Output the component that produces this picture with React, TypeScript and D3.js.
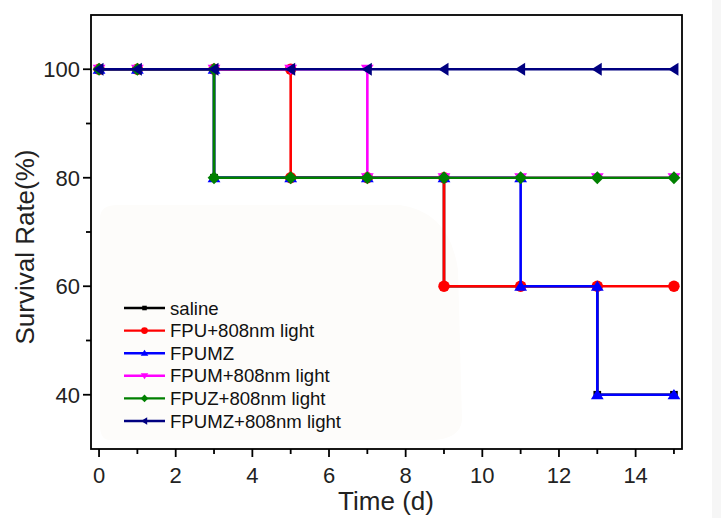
import React from "react";
import * as d3 from "d3";

const seriesNames = [
  "saline",
  "FPU+808nm light",
  "FPUMZ",
  "FPUM+808nm light",
  "FPUZ+808nm light",
  "FPUMZ+808nm light",
];
const seriesColors = ["#000000", "#ff0000", "#0000ff", "#ff00ff", "#008000", "#000080"];
const seriesSymbols = ["square", "circle", "triUp", "triDown", "diamond", "triLeft"];

const salineT = [0, 1, 3, 3, 5, 7, 9, 9, 11, 13, 13, 15];
const salineV = [100, 100, 100, 80, 80, 80, 80, 60, 60, 60, 40, 40];
const fpuT = [0, 1, 3, 5, 5, 7, 9, 9, 11, 13, 15];
const fpuV = [100, 100, 100, 100, 80, 80, 80, 60, 60, 60, 60];
const fpumzT = [0, 1, 3, 3, 5, 7, 9, 11, 11, 13, 13, 15];
const fpumzV = [100, 100, 100, 80, 80, 80, 80, 80, 60, 60, 40, 40];
const fpumT = [0, 1, 3, 5, 7, 7, 9, 11, 13, 15];
const fpumV = [100, 100, 100, 100, 100, 80, 80, 80, 80, 80];
const fpuzT = [0, 1, 3, 3, 5, 7, 9, 11, 13, 15];
const fpuzV = [100, 100, 100, 80, 80, 80, 80, 80, 80, 80];
const fpumzLT = [0, 1, 3, 5, 7, 9, 11, 13, 15];
const fpumzLV = [100, 100, 100, 100, 100, 100, 100, 100, 100];

const seriesT = [salineT, fpuT, fpumzT, fpumT, fpuzT, fpumzLT];
const seriesV = [salineV, fpuV, fpumzV, fpumV, fpuzV, fpumzLV];

const xMajor = [0, 2, 4, 6, 8, 10, 12, 14];
const xMinor = [1, 3, 5, 7, 9, 11, 13, 15];
const yMajor = [40, 60, 80, 100];
const yMinor = [50, 70, 90];

const W = 721;
const H = 518;
const plot = { left: 91, right: 682, top: 15, bottom: 449 };

function symbolPath(kind: string, r: number): string {
  switch (kind) {
    case "square":
      return `M${-r * 0.6},${-r * 0.6}h${r * 1.2}v${r * 1.2}h${-r * 1.2}Z`;
    case "circle":
      return d3.symbol(d3.symbolCircle, Math.PI * r * r * 0.8)() || "";
    case "triUp":
      return `M0,${-r * 0.9}L${r},${r * 0.7}L${-r},${r * 0.7}Z`;
    case "triDown":
      return `M0,${r * 0.9}L${r},${-r * 0.7}L${-r},${-r * 0.7}Z`;
    case "diamond":
      return `M0,${-r}L${r},0L0,${r}L${-r},0Z`;
    case "triLeft":
      return `M${-r * 0.9},0L${r * 0.7},${-r}L${r * 0.7},${r}Z`;
  }
  return "";
}

export default function App() {
  const x = d3.scaleLinear().domain([-0.21, 15.21]).range([plot.left, plot.right]);
  const y = d3.scaleLinear().domain([30, 110]).range([plot.bottom, plot.top]);
  const line = d3
    .line<[number, number]>()
    .x((d) => x(d[0]))
    .y((d) => y(d[1]));

  const font = "'Liberation Sans', Arial, sans-serif";
  const legendX = 124;
  const legendY = 308;
  const legendStep = 22.6;

  return (
    <svg
      width={W}
      height={H}
      style={{ position: "fixed", left: 0, top: 0, background: "#ffffff" }}
      fontFamily={font}
    >
      <rect x={0} y={0} width={W} height={H} fill="#ffffff" />
      <rect x={712} y={0} width={9} height={H} fill="#f6f6f6" />
      <path
        d="M100,218 Q100,205 118,205 L400,205 Q450,212 458,270 L462,420 Q460,440 430,440 L110,440 Q100,440 100,425 Z"
        fill="#fdfcfa"
      />
      {seriesT.map((ts, i) => {
        const pts = ts.map((t, j) => [t, seriesV[i][j]] as [number, number]);
        return (
          <g key={i}>
            <path d={line(pts) || ""} fill="none" stroke={seriesColors[i]} strokeWidth={2.6} />
            {pts.map((p, j) => (
              <path
                key={j}
                d={symbolPath(seriesSymbols[i], 6.4)}
                transform={`translate(${x(p[0])},${y(p[1])})`}
                fill={seriesColors[i]}
              />
            ))}
          </g>
        );
      })}
      {/* frame */}
      <rect
        x={plot.left}
        y={plot.top}
        width={plot.right - plot.left}
        height={plot.bottom - plot.top}
        fill="none"
        stroke="#000"
        strokeWidth={1.8}
      />
      {/* y ticks */}
      {yMajor.map((v) => (
        <g key={"ym" + v}>
          <line x1={plot.left - 8} x2={plot.left} y1={y(v)} y2={y(v)} stroke="#000" strokeWidth={1.8} />
          <text x={plot.left - 11} y={y(v)} dy="0.36em" textAnchor="end" fontSize={22} fill="#222">
            {v}
          </text>
        </g>
      ))}
      {yMinor.map((v) => (
        <line key={"yn" + v} x1={plot.left - 5} x2={plot.left} y1={y(v)} y2={y(v)} stroke="#000" strokeWidth={1.8} />
      ))}
      {/* x ticks */}
      {xMajor.map((v) => (
        <g key={"xm" + v}>
          <line x1={x(v)} x2={x(v)} y1={plot.bottom} y2={plot.bottom + 8} stroke="#000" strokeWidth={1.8} />
          <text x={x(v)} y={plot.bottom + 34} textAnchor="middle" fontSize={22} fill="#222">
            {v}
          </text>
        </g>
      ))}
      {xMinor.map((v) => (
        <line key={"xn" + v} x1={x(v)} x2={x(v)} y1={plot.bottom} y2={plot.bottom + 5} stroke="#000" strokeWidth={1.8} />
      ))}
      {/* axis titles */}
      <text x={386} y={510} textAnchor="middle" fontSize={26} fill="#222">
        Time (d)
      </text>
      <text
        transform={`translate(34,247) rotate(-90)`}
        textAnchor="middle"
        fontSize={26}
        fill="#222"
      >
        Survival Rate(%)
      </text>
      {/* legend */}
      {seriesNames.map((name, i) => {
        const ly = legendY + i * legendStep;
        return (
          <g key={"lg" + i}>
            <line x1={legendX} x2={legendX + 41} y1={ly} y2={ly} stroke={seriesColors[i]} strokeWidth={2.4} />
            <path
              d={symbolPath(seriesSymbols[i], 3.8)}
              transform={`translate(${legendX + 20.5},${ly})`}
              fill={seriesColors[i]}
            />
            <text x={legendX + 46} y={ly} dy="0.36em" fontSize={18.6} fill="#111">
              {name}
            </text>
          </g>
        );
      })}
    </svg>
  );
}
